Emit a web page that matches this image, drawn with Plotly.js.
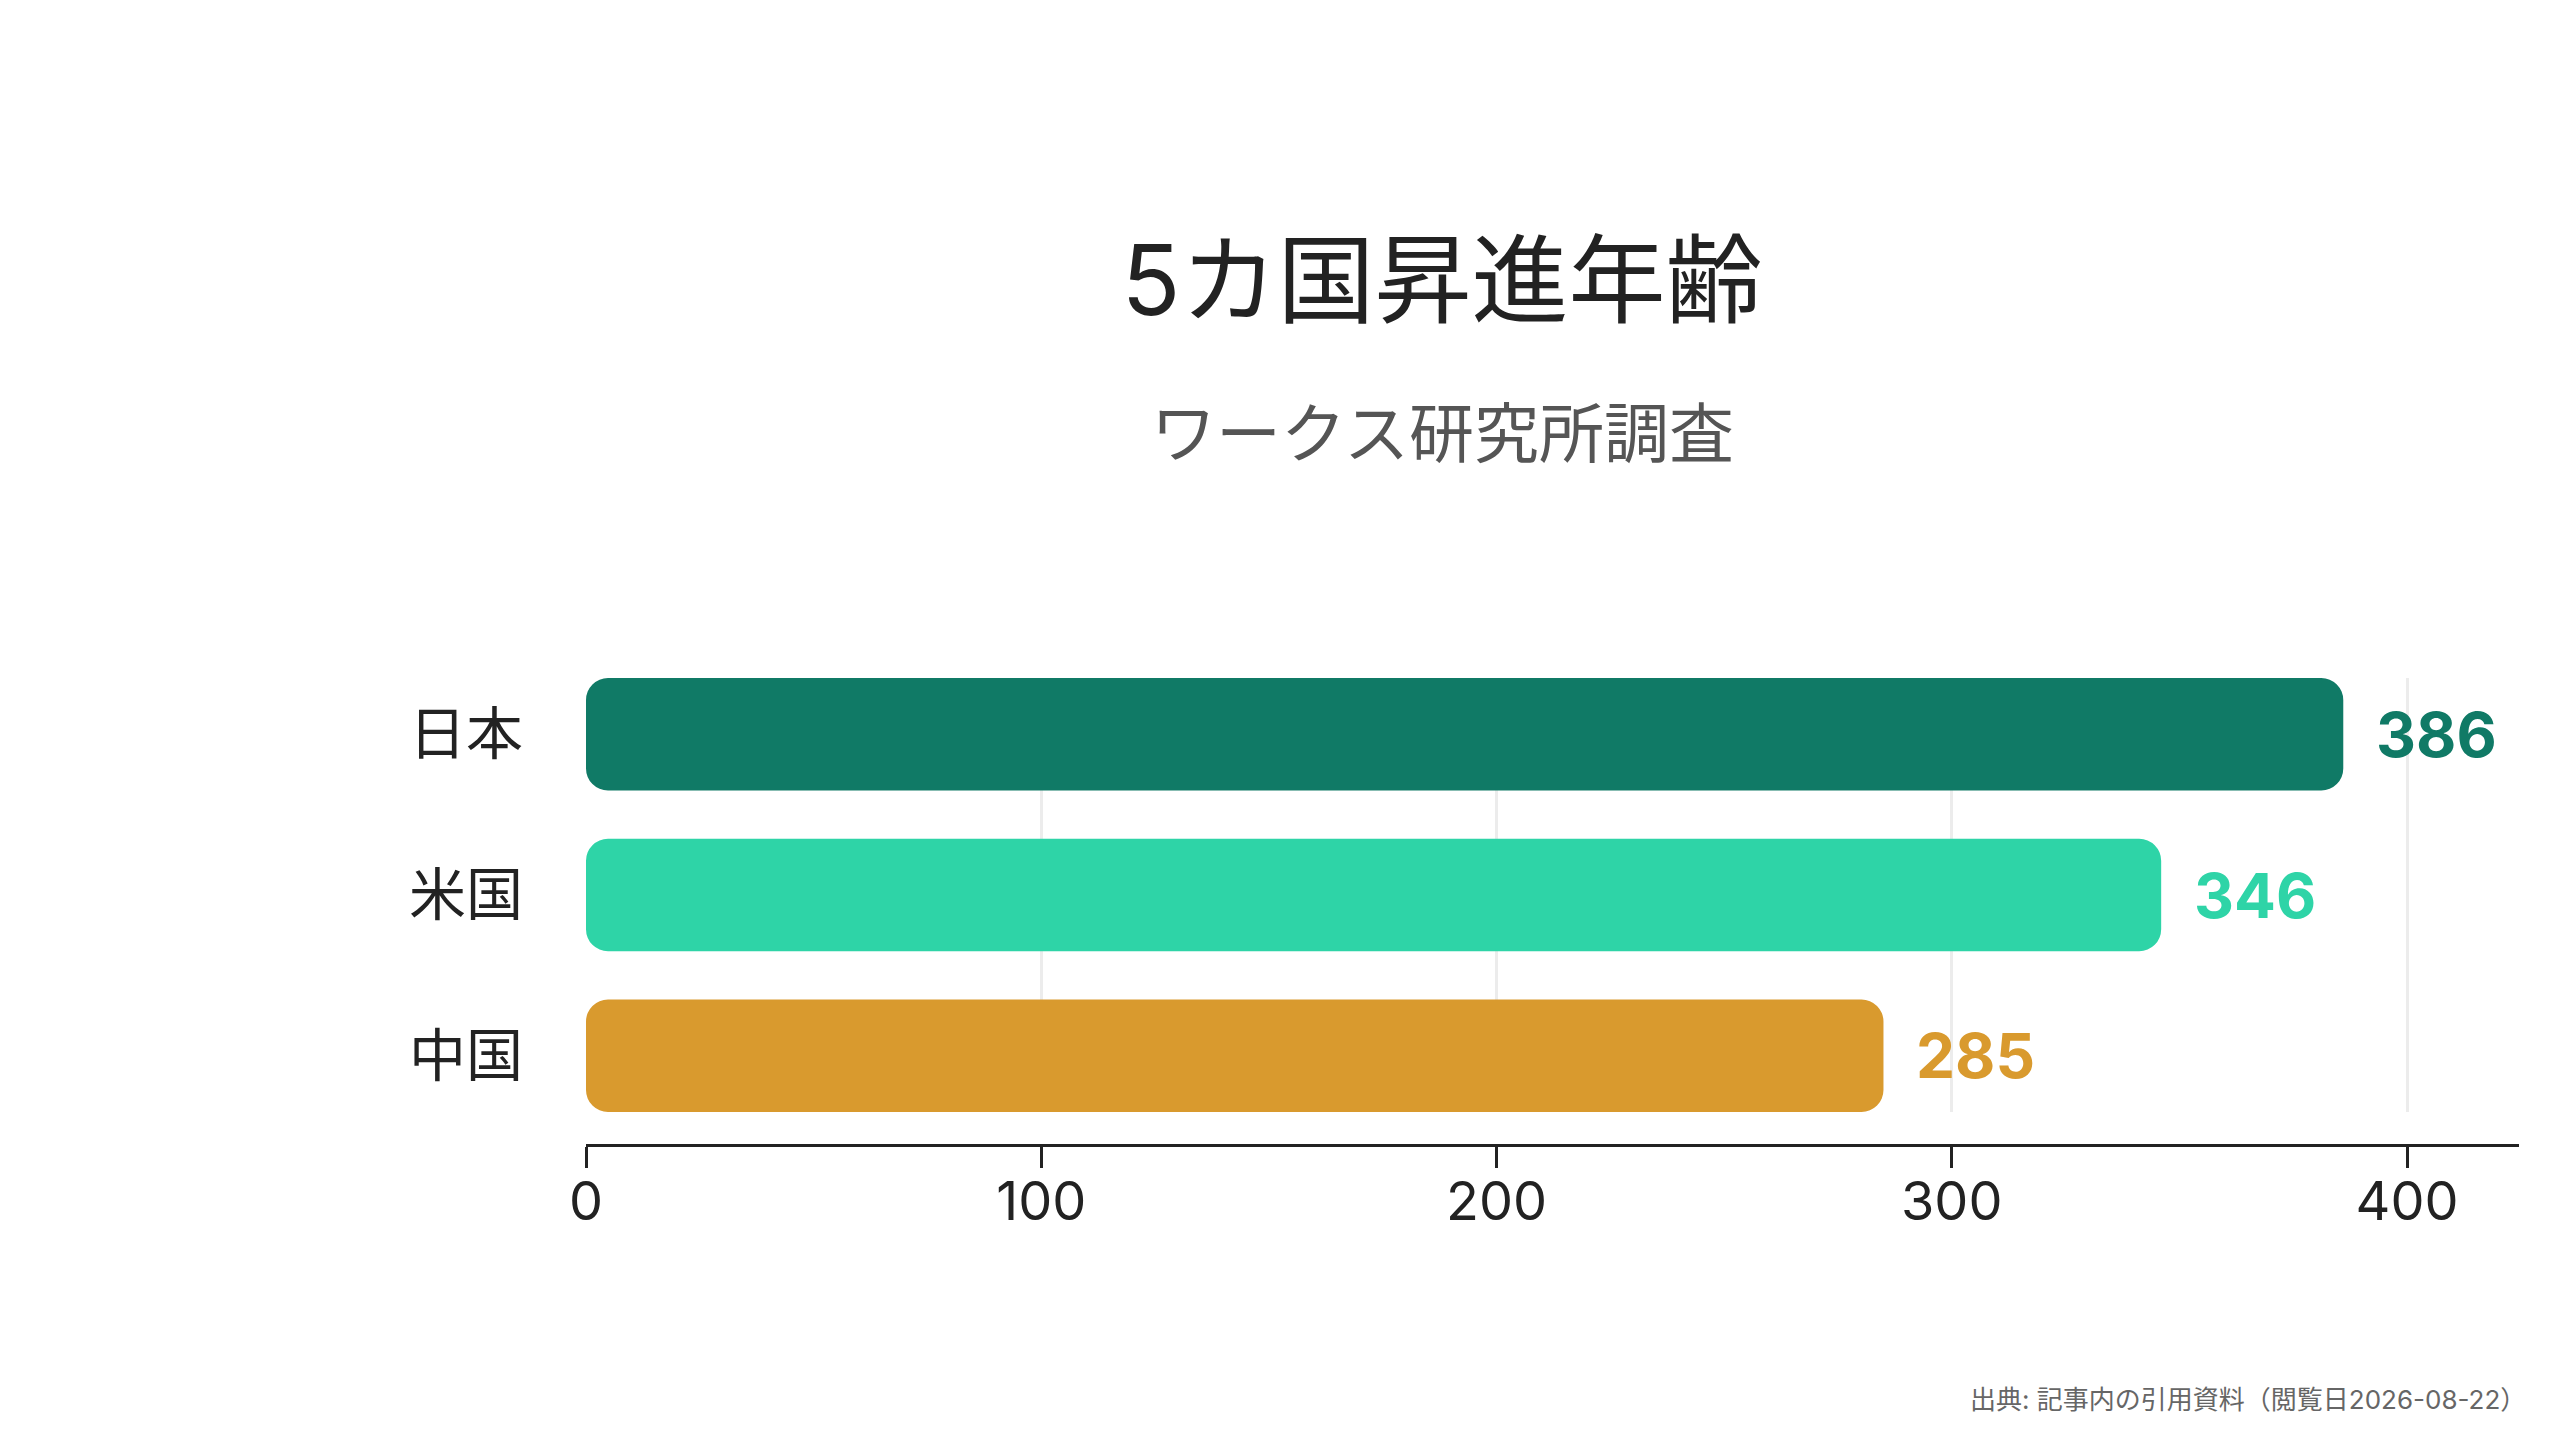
<!DOCTYPE html>
<html>
<head>
<meta charset="utf-8">
<script src="https://cdn.plot.ly/plotly-3.0.1.min.js"></script>
<style>
  html, body { margin: 0; padding: 0; background: #fff; }
  #chart { width: 2560px; height: 1440px; }
</style>
</head>
<body>
<div id="chart"></div>
<script>
// データ
const countries = ['日本', '米国', '中国'];
const ages = [386, 346, 285];
const barColors = ['#107A66', '#2ED4A7', '#D99A2E'];
const tickValues = [0, 100, 200, 300, 400];

const FONT = 'Inter, "Noto Sans CJK JP", "Noto Sans", sans-serif';

const bars = {
  type: 'bar',
  orientation: 'h',
  y: countries,
  x: ages,
  base: 0,
  width: 0.7,
  marker: { color: barColors, cornerradius: 22, line: { width: 0 } },
  hovertemplate: '%{y}: %{x}<extra></extra>',
  showlegend: false
};

// 値ラベル
const valueLabels = countries.map((c, i) => ({
  x: ages[i],
  y: c,
  xref: 'x',
  yref: 'y',
  text: String(ages[i]),
  showarrow: false,
  xanchor: 'left',
  yanchor: 'middle',
  xshift: 31,
  font: { family: FONT, size: 62, color: barColors[i], weight: 700 }
}));

const layout = {
  width: 2560,
  height: 1440,
  paper_bgcolor: '#ffffff',
  plot_bgcolor: '#ffffff',
  margin: { l: 586, r: 41, t: 678, b: 295 },
  font: { family: FONT, color: '#222222' },
  title: {
    text: '5カ国昇進年齢',
    xref: 'container',
    yref: 'container',
    x: 1442 / 2560,
    y: 1 - 281 / 1440,
    xanchor: 'center',
    yanchor: 'middle',
    font: { family: FONT, size: 97, color: '#222222' }
  },
  xaxis: {
    range: [0, 424.6],
    tickvals: tickValues,
    anchor: 'free',
    position: 0,
    showgrid: true,
    gridcolor: '#ececec',
    gridwidth: 3,
    zeroline: false,
    showline: true,
    linecolor: '#222222',
    linewidth: 3,
    ticks: 'outside',
    ticklen: 21,
    tickwidth: 3,
    tickcolor: '#222222',
    ticklabelstandoff: -13,
    tickfont: { family: FONT, size: 54, color: '#222222' },
    fixedrange: true
  },
  yaxis: {
    type: 'category',
    categoryarray: countries,
    range: [2.35, -0.35],
    domain: [33 / 467, 1],
    showgrid: false,
    zeroline: false,
    showline: false,
    ticks: '',
    ticklabelstandoff: 62,
    tickfont: { family: FONT, size: 57, color: '#222222' },
    fixedrange: true
  },
  annotations: [
    {
      text: 'ワークス研究所調査',
      xref: 'paper',
      yref: 'paper',
      x: (1442 - 586) / 1933,
      y: (1145 - 433) / 467,
      xanchor: 'center',
      yanchor: 'middle',
      showarrow: false,
      font: { family: FONT, size: 65, color: '#555555' }
    },
    {
      text: '出典: 記事内の引用資料（閲覧日2026-08-22）',
      xref: 'paper',
      yref: 'paper',
      x: (2512 - 586) / 1933,
      y: (1145 - 1399) / 467,
      xshift: 16,
      xanchor: 'right',
      yanchor: 'middle',
      showarrow: false,
      font: { family: FONT, size: 26, color: '#666666' }
    },
    ...valueLabels
  ]
};

Plotly.newPlot('chart', [bars], layout, {
  displayModeBar: false,
  responsive: false,
  staticPlot: true
});
</script>
</body>
</html>
